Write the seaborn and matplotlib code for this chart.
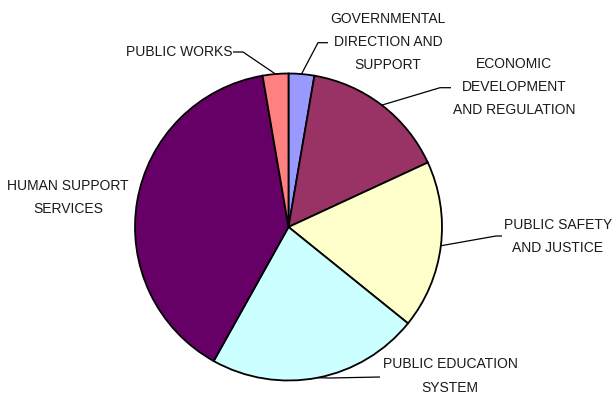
import numpy as np
import matplotlib
matplotlib.use("Agg")
import matplotlib.pyplot as plt
import seaborn as sns

# Budget shares by program area (percent), clockwise from 12 o'clock
categories = [
    "GOVERNMENTAL\nDIRECTION AND\nSUPPORT",
    "ECONOMIC\nDEVELOPMENT\nAND REGULATION",
    "PUBLIC SAFETY\nAND JUSTICE",
    "PUBLIC EDUCATION\nSYSTEM",
    "HUMAN SUPPORT\nSERVICES",
    "PUBLIC WORKS",
]
shares = [2.7, 15.4, 17.7, 22.3, 39.2, 2.7]
colors = ["#9999FF", "#993366", "#FFFFCC", "#CCFFFF", "#660066", "#FF8080"]

sns.set_theme(style="white")
plt.rcParams["font.family"] = ["Liberation Sans Narrow", "Liberation Sans", "DejaVu Sans"]

W, H = 614, 401
fig = plt.figure(figsize=(W / 100, H / 100), dpi=100)
fig.patch.set_facecolor("white")

# pie placement in pixels (centre and radius)
cx, cy, r = 288.5, 227.0, 153.5
ax = fig.add_axes([(cx - r) / W, (H - cy - r) / H, 2 * r / W, 2 * r / H])

wedges, _ = ax.pie(
    shares,
    colors=colors,
    startangle=90,
    counterclock=False,
    radius=1.0,
    wedgeprops=dict(edgecolor="black", linewidth=1.3),
)
ax.set_xlim(-1, 1)
ax.set_ylim(-1, 1)
ax.axis("off")


def px(x, y):
    """pixel position (origin top-left) -> pie data coordinates"""
    return (x - cx) / r, (cy - y) / r


# label layout: text centre, and the leader's start and elbow points (pixels)
label_layout = [
    ((388, 42), (328, 42.7), (318, 42.7)),
    ((514, 87), (451, 87.7), (440, 87.7)),
    ((558, 236.5), (502, 236), (496, 236)),
    ((450, 376), (380, 377), (330, 378)),
    ((68, 197.5), None, None),
    ((179, 52), (233, 52), (243, 52)),
]

text_color = "#1a1a1a"
for w, lab, (tpos, start, elbow) in zip(wedges, categories, label_layout):
    tx, ty = px(*tpos)
    ax.text(tx, ty, lab, ha="center", va="center", fontsize=10,
            color=text_color, linespacing=1.82, multialignment="center",
            clip_on=False)
    if start is None:
        continue
    mid = np.deg2rad((w.theta1 + w.theta2) / 2)
    ex, ey = np.cos(mid), np.sin(mid)
    sx, sy = px(*start)
    bx, by = px(*elbow)
    ax.plot([sx, bx, ex], [sy, by, ey], color="black", linewidth=0.9,
            clip_on=False, solid_capstyle="butt")

fig.savefig("out.png", dpi=100, facecolor="white")
